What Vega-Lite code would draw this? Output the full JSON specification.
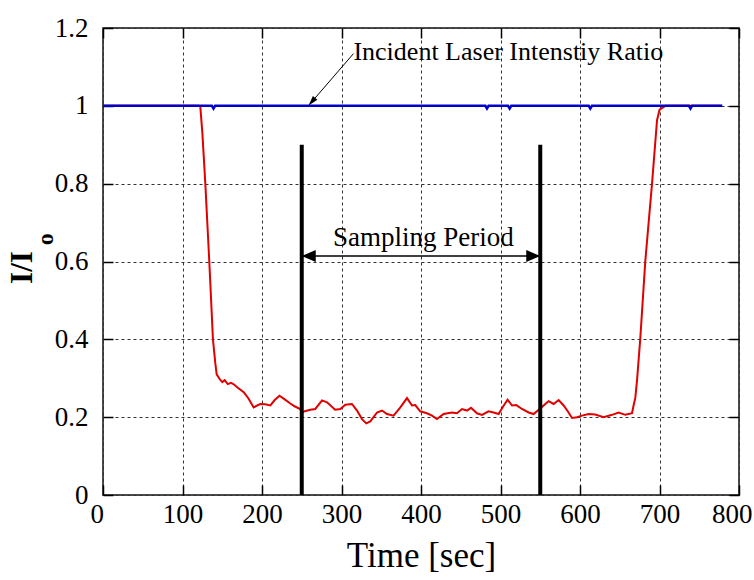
{
  "$schema": "https://vega.github.io/schema/vega-lite/v6.json",
  "width": 636,
  "height": 467,
  "autosize": {"type": "none"},
  "padding": {"left": 103, "top": 28, "right": 15, "bottom": 85},
  "background": "white",
  "config": {"font": "Liberation Serif", "view": {"stroke": "#111", "strokeWidth": 1.5}},
  "datasets": {
    "red": [
      {"t": 0, "ratio": 1.0}, {"t": 60, "ratio": 1.0}, {"t": 120, "ratio": 1.0}, {"t": 122.4, "ratio": 0.998},
      {"t": 125, "ratio": 0.93}, {"t": 128.7, "ratio": 0.8}, {"t": 133.7, "ratio": 0.6}, {"t": 138.3, "ratio": 0.4},
      {"t": 141.3, "ratio": 0.338}, {"t": 143, "ratio": 0.31}, {"t": 146.7, "ratio": 0.298}, {"t": 150, "ratio": 0.29},
      {"t": 153, "ratio": 0.295}, {"t": 157, "ratio": 0.285}, {"t": 161, "ratio": 0.288}, {"t": 164, "ratio": 0.285},
      {"t": 170, "ratio": 0.275}, {"t": 177, "ratio": 0.264}, {"t": 183, "ratio": 0.248}, {"t": 189.5, "ratio": 0.225},
      {"t": 194, "ratio": 0.23}, {"t": 198, "ratio": 0.234}, {"t": 204, "ratio": 0.233}, {"t": 210.5, "ratio": 0.23},
      {"t": 216, "ratio": 0.244}, {"t": 222, "ratio": 0.255}, {"t": 229, "ratio": 0.245}, {"t": 235.6, "ratio": 0.235},
      {"t": 241, "ratio": 0.228}, {"t": 248, "ratio": 0.221}, {"t": 250.3, "ratio": 0.212}, {"t": 255, "ratio": 0.216},
      {"t": 260.8, "ratio": 0.219}, {"t": 267, "ratio": 0.221}, {"t": 275.5, "ratio": 0.243}, {"t": 281.8, "ratio": 0.238},
      {"t": 292, "ratio": 0.219}, {"t": 298.5, "ratio": 0.221}, {"t": 304.8, "ratio": 0.232}, {"t": 313.2, "ratio": 0.234},
      {"t": 319.5, "ratio": 0.217}, {"t": 325.8, "ratio": 0.195}, {"t": 331.2, "ratio": 0.184}, {"t": 336.2, "ratio": 0.189},
      {"t": 344.7, "ratio": 0.212}, {"t": 350.9, "ratio": 0.217}, {"t": 357.2, "ratio": 0.208}, {"t": 365.5, "ratio": 0.204},
      {"t": 374, "ratio": 0.225}, {"t": 382.4, "ratio": 0.249}, {"t": 388.7, "ratio": 0.23}, {"t": 392.8, "ratio": 0.231},
      {"t": 399, "ratio": 0.215}, {"t": 407.5, "ratio": 0.21}, {"t": 413.8, "ratio": 0.204}, {"t": 420.1, "ratio": 0.195},
      {"t": 428.4, "ratio": 0.208}, {"t": 439, "ratio": 0.212}, {"t": 445.3, "ratio": 0.21}, {"t": 451.6, "ratio": 0.221},
      {"t": 457.9, "ratio": 0.217}, {"t": 462.9, "ratio": 0.224}, {"t": 470.4, "ratio": 0.21}, {"t": 476.7, "ratio": 0.206},
      {"t": 485, "ratio": 0.215}, {"t": 491.3, "ratio": 0.212}, {"t": 497.6, "ratio": 0.208}, {"t": 503.1, "ratio": 0.227},
      {"t": 508.9, "ratio": 0.245}, {"t": 514.5, "ratio": 0.23}, {"t": 519.9, "ratio": 0.231}, {"t": 527, "ratio": 0.221},
      {"t": 535.4, "ratio": 0.212}, {"t": 541.6, "ratio": 0.208}, {"t": 549.2, "ratio": 0.221}, {"t": 556.4, "ratio": 0.234},
      {"t": 560.6, "ratio": 0.241}, {"t": 566.8, "ratio": 0.234}, {"t": 573.1, "ratio": 0.244}, {"t": 579.4, "ratio": 0.23},
      {"t": 585, "ratio": 0.214}, {"t": 590, "ratio": 0.198}, {"t": 596.2, "ratio": 0.2}, {"t": 602.5, "ratio": 0.204},
      {"t": 610.8, "ratio": 0.208}, {"t": 619.2, "ratio": 0.207}, {"t": 629.7, "ratio": 0.2}, {"t": 640.3, "ratio": 0.206},
      {"t": 648.6, "ratio": 0.212}, {"t": 657, "ratio": 0.206}, {"t": 665.4, "ratio": 0.21}, {"t": 667.4, "ratio": 0.23},
      {"t": 669.6, "ratio": 0.25}, {"t": 671.7, "ratio": 0.294}, {"t": 675.8, "ratio": 0.401}, {"t": 682.1, "ratio": 0.6},
      {"t": 690.6, "ratio": 0.8}, {"t": 696.9, "ratio": 0.963}, {"t": 700.1, "ratio": 0.99}, {"t": 707.3, "ratio": 1.0},
      {"t": 740, "ratio": 1.0}, {"t": 778, "ratio": 1.0}
    ],
    "blue": [
      {"t": 0, "ratio": 1.0}, {"t": 137, "ratio": 1.0}, {"t": 139, "ratio": 0.993}, {"t": 141, "ratio": 1.0},
      {"t": 481, "ratio": 1.0}, {"t": 483, "ratio": 0.993}, {"t": 485, "ratio": 1.0},
      {"t": 509.5, "ratio": 1.0}, {"t": 511.5, "ratio": 0.993}, {"t": 513.5, "ratio": 1.0},
      {"t": 611, "ratio": 1.0}, {"t": 613, "ratio": 0.993}, {"t": 615, "ratio": 1.0},
      {"t": 737, "ratio": 1.0}, {"t": 739, "ratio": 0.993}, {"t": 741, "ratio": 1.0}, {"t": 779, "ratio": 1.0}
    ],
    "bars": [
      {"t": 250, "lo": 0, "hi": 0.9},
      {"t": 550, "lo": 0, "hi": 0.9}
    ],
    "period": [
      {"start": 250, "end": 550, "level": 0.614}
    ]
  },
  "layer": [
    {
      "data": {"name": "red"},
      "mark": {"type": "line", "color": "#e00000", "strokeWidth": 2},
      "encoding": {
        "x": {"field": "t", "type": "quantitative", "scale": {"domain": [0, 800], "nice": false},
          "axis": {"orient": "bottom", "values": [0, 100, 200, 300, 400, 500, 600, 700, 800], "grid": true,
            "gridDash": [3, 3], "gridColor": "#333", "gridWidth": 1, "gridOpacity": 1,
            "tickSize": -10, "tickColor": "#000", "tickWidth": 1.5, "domain": false,
            "labelFont": "Liberation Serif", "labelFontSize": 27, "labelColor": "#000", "labelPadding": 16,
            "labelFlush": true, "labelFlushOffset": 13,
            "title": "Time [sec]", "titleFont": "Liberation Serif", "titleFontSize": 35, "titleFontWeight": "normal", "titleColor": "#000",
            "titleX": 318, "titleY": 71, "titleBaseline": "alphabetic", "titleAlign": "center"}},
        "y": {"field": "ratio", "type": "quantitative", "scale": {"domain": [0, 1.2], "nice": false, "zero": false},
          "axis": {"orient": "left", "values": [0, 0.2, 0.4, 0.6, 0.8, 1, 1.2], "format": "~g", "grid": true,
            "gridDash": [3, 3], "gridColor": "#333", "gridWidth": 1, "gridOpacity": 1,
            "tickSize": -10, "tickColor": "#000", "tickWidth": 1.5, "domain": false,
            "labelFont": "Liberation Serif", "labelFontSize": 27, "labelColor": "#000", "labelPadding": 25, "labelFlush": false,
            "title": "I/I", "titleFont": "Liberation Serif", "titleFontSize": 31, "titleFontWeight": "bold", "titleColor": "#000",
            "titleAngle": 270, "titleX": -81, "titleY": 239, "titleBaseline": "middle", "titleAlign": "center"}}
      }
    },
    {
      "data": {"name": "blue"},
      "mark": {"type": "line", "color": "#0000cc", "strokeWidth": 2.5},
      "encoding": {
        "x": {"field": "t", "type": "quantitative",
          "axis": {"orient": "top", "values": [0, 100, 200, 300, 400, 500, 600, 700, 800], "grid": false,
            "labels": false, "tickSize": -10, "tickColor": "#000", "tickWidth": 1.5, "domain": false, "title": null}},
        "y": {"field": "ratio", "type": "quantitative",
          "axis": {"orient": "right", "values": [0, 0.2, 0.4, 0.6, 0.8, 1, 1.2], "grid": false,
            "labels": false, "tickSize": -10, "tickColor": "#000", "tickWidth": 1.5, "domain": false, "title": null}}
      }
    },
    {
      "data": {"name": "bars"},
      "mark": {"type": "rule", "color": "#000", "strokeWidth": 4},
      "encoding": {
        "x": {"field": "t", "type": "quantitative", "axis": null},
        "y": {"field": "lo", "type": "quantitative", "axis": null},
        "y2": {"field": "hi"}
      }
    },
    {
      "data": {"name": "period"},
      "mark": {"type": "rule", "color": "#000", "strokeWidth": 1.5},
      "encoding": {
        "x": {"field": "start", "type": "quantitative", "axis": null},
        "x2": {"field": "end"},
        "y": {"field": "level", "type": "quantitative", "axis": null}
      }
    },
    {
      "data": {"name": "period"},
      "mark": {"type": "point", "shape": "M0,0L2,-0.85L2,0.85Z", "size": 196, "filled": true, "color": "#000", "opacity": 1},
      "encoding": {
        "x": {"field": "start", "type": "quantitative", "axis": null},
        "y": {"field": "level", "type": "quantitative", "axis": null}
      }
    },
    {
      "data": {"name": "period"},
      "mark": {"type": "point", "shape": "M0,0L-2,-0.85L-2,0.85Z", "size": 196, "filled": true, "color": "#000", "opacity": 1},
      "encoding": {
        "x": {"field": "end", "type": "quantitative", "axis": null},
        "y": {"field": "level", "type": "quantitative", "axis": null}
      }
    },
    {
      "data": {"values": [{"label": "Sampling Period"}]},
      "mark": {"type": "text", "font": "Liberation Serif", "fontSize": 27, "align": "center", "baseline": "alphabetic", "color": "#000"},
      "encoding": {
        "text": {"field": "label"},
        "x": {"datum": 403, "type": "quantitative", "axis": null},
        "y": {"datum": 0.639, "type": "quantitative", "axis": null}
      }
    },
    {
      "data": {"values": [{"label": "Incident Laser Intenstiy Ratio"}]},
      "mark": {"type": "rule", "color": "#000", "strokeWidth": 1},
      "encoding": {
        "x": {"datum": 315, "type": "quantitative", "axis": null},
        "y": {"datum": 1.134, "type": "quantitative", "axis": null},
        "x2": {"datum": 260},
        "y2": {"datum": 1.004}
      }
    },
    {
      "data": {"values": [{"label": "Incident Laser Intenstiy Ratio"}]},
      "mark": {"type": "point", "shape": "M0,0L0.6,2L-0.6,2Z", "size": 100, "angle": 221, "filled": true, "color": "#000", "opacity": 1},
      "encoding": {
        "x": {"datum": 258.6, "type": "quantitative", "axis": null},
        "y": {"datum": 1.001, "type": "quantitative", "axis": null}
      }
    },
    {
      "data": {"values": [{"label": "Incident Laser Intenstiy Ratio"}]},
      "mark": {"type": "text", "font": "Liberation Serif", "fontSize": 26, "align": "left", "baseline": "alphabetic", "color": "#000"},
      "encoding": {
        "text": {"field": "label"},
        "x": {"datum": 315, "type": "quantitative", "axis": null},
        "y": {"datum": 1.117, "type": "quantitative", "axis": null}
      }
    },
    {
      "data": {"values": [{"label": "o"}]},
      "mark": {"type": "text", "font": "Liberation Serif", "fontSize": 24, "fontWeight": "bold", "angle": 270, "align": "center", "baseline": "middle", "color": "#000"},
      "encoding": {
        "text": {"field": "label"},
        "x": {"datum": -71.3, "type": "quantitative", "axis": null},
        "y": {"datum": 0.657, "type": "quantitative", "axis": null}
      }
    }
  ],
  "resolve": {"axis": {"x": "independent", "y": "independent"}}
}
